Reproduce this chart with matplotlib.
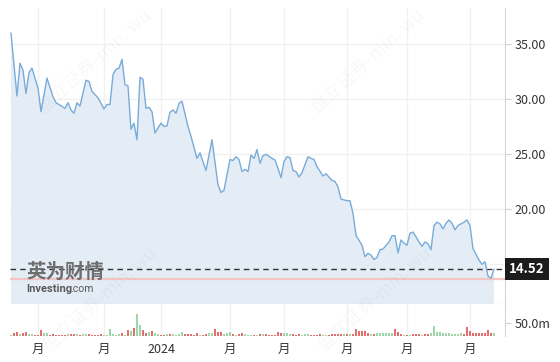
import matplotlib
matplotlib.use("Agg")
import matplotlib.pyplot as plt
import matplotlib.transforms as mtransforms

plt.rcParams['font.family'] = ['Noto Sans CJK SC', 'DejaVu Sans']

# 收盘价 (交易日序号, 价格)
price_day = [0, 2, 3, 4, 5, 6, 7, 9, 10, 12, 14, 15, 16, 18, 19, 20, 21, 22, 23, 25,
             26, 27, 29, 31, 32, 33, 34, 35, 36, 37, 38, 39, 40, 41, 42, 43, 44, 45, 46, 47,
             48, 50, 51, 52, 53, 54, 55, 56, 57, 59, 60, 62, 63, 65, 67, 69, 70, 71, 73, 74,
             75, 76, 77, 78, 79, 80, 81, 82, 83, 84, 85, 87, 88, 89, 90, 91, 92, 93, 94, 95,
             96, 97, 99, 100, 101, 102, 104, 105, 106, 107, 108, 109, 110, 112, 113, 114, 115, 117, 118, 119,
             120, 121, 122, 123, 124, 126, 127, 128, 129, 130, 131, 132, 133, 134, 135, 136, 137, 138, 139, 140,
             141, 142, 143, 144, 145, 146, 147, 148, 149, 150, 151, 152, 153, 154, 156, 157, 158, 159, 160, 161]
close = [35.97, 30.27, 33.25, 32.6, 30.5, 32.4, 32.8, 31.0, 28.85, 31.9, 30.2, 29.66, 29.5, 29.15, 29.66, 29.0, 28.7, 29.66, 29.36, 31.7,
         31.6, 30.7, 30.1, 29.1, 29.5, 29.5, 32.2, 32.7, 32.8, 33.6, 31.3, 31.2, 27.25, 27.8, 26.3, 31.97, 31.8, 29.15, 29.25, 28.85,
         26.9, 27.8, 27.5, 27.55, 28.8, 29.0, 28.7, 29.6, 29.8, 27.5, 26.6, 24.6, 25.1, 23.5, 26.3, 22.2, 21.5, 21.7, 24.5, 24.4,
         24.75, 24.5, 23.4, 23.6, 23.4, 24.9, 24.6, 25.4, 24.15, 24.85, 24.97, 24.6, 24.45, 23.7, 22.85, 24.3, 24.75, 24.66, 23.5, 23.4,
         22.9, 23.3, 24.75, 24.6, 24.5, 23.85, 23.0, 23.2, 22.9, 22.6, 22.5, 22.0, 20.9, 20.75, 20.75, 19.6, 17.6, 16.7, 15.66, 15.97,
         15.8, 15.4, 15.6, 16.3, 16.36, 17.0, 17.57, 17.57, 16.0, 17.18, 16.9, 16.7, 17.8, 17.9, 17.48, 17.0, 16.6, 17.0, 16.85, 16.3,
         18.5, 18.8, 18.65, 18.2, 18.7, 19.0, 18.7, 18.1, 18.5, 18.65, 18.8, 19.0, 18.5, 16.4, 15.36, 14.97, 15.2, 13.9, 13.7, 14.52]

last_price = 14.52
low_price = 13.62

# 成交量 (百万), 每个交易日一根
volume = [4, 10, 14, 9, 10, 14, 6, 6, 4, 4,
          22, 10, 10, 4, 6, 4, 4, 4, 4, 6,
          6, 6, 6, 4, 6, 6, 6, 4, 4, 4,
          6, 4, 4, 26, 9, 4, 9, 10, 4, 23,
          19, 29, 83, 42, 23, 13, 14, 19, 10, 6,
          4, 4, 9, 6, 6, 4, 6, 14, 8, 8,
          8, 4, 10, 4, 4, 8, 10, 10, 27, 14,
          14, 6, 10, 14, 6, 4, 6, 10, 6, 4,
          4, 4, 4, 6, 6, 6, 4, 4, 4, 14,
          10, 10, 10, 6, 6, 4, 6, 4, 6, 6,
          4, 4, 4, 6, 4, 4, 4, 6, 8, 8,
          8, 8, 8, 8, 8, 26, 20, 20, 20, 13,
          8, 8, 10, 10, 10, 10, 13, 10, 26, 17,
          8, 5, 5, 5, 8, 8, 8, 5, 8, 8,
          10, 38, 17, 17, 10, 10, 10, 8, 8, 8,
          10, 8, 33, 20, 13, 13, 13, 13, 10, 23,
          10, 10]
# u = 上涨(绿), d = 下跌(红)
vol_dir = list("uddudduudd" "duuddddddu" "ddudu" "udddd" "duuuuuudud"
               "uduudduduu" "dduduuuudd" "ddduddu" "udd" "duuududduu"
               "udududdddd" "duuudddu" "uu" "ddddu" "udddd" "dudu" "dddddd"
               "uduuuuuudd" "dudu" "dddudd" "uuuuuuuuuu" "uddddddddd" "du")

month_ticks = [9, 31, 50, 73, 91, 112, 132, 153]
month_labels = ['月', '月', '2024', '月', '月', '月', '月', '月']
price_ticks = [15, 20, 25, 30, 35]

fig = plt.figure(figsize=(5.6, 3.62), dpi=100)
ax = fig.add_axes([10 / 560, 58 / 362, 495 / 560, 296 / 362])
axv = fig.add_axes([10 / 560, 26 / 362, 495 / 560, 32 / 362], sharex=ax)

ax.fill_between(price_day, close, 0, color='#e4ecf5', lw=0, zorder=1)
ax.plot(price_day, close, color='#78acd9', lw=1, zorder=4)
ax.axhline(low_price, color='#f4c4c4', lw=1.6, zorder=2)
ax.axhline(last_price, color='#333333', lw=1, ls=(0, (4, 3)), zorder=3)

ax.set_xlim(-0.33, 164.67)
ax.set_ylim(11.36, 38.27)
ax.yaxis.tick_right()
ax.set_yticks(price_ticks)
ax.set_yticklabels(['%.2f' % v for v in price_ticks])
ax.set_xticks(month_ticks)
ax.tick_params(axis='y', length=4, color='#d0d0d0', labelsize=9, labelcolor='#333333', pad=3)
ax.tick_params(axis='x', length=0, labelbottom=False)
ax.grid(color='#f1f1f1', lw=1, zorder=0)
ax.set_axisbelow(True)
for s in ['top', 'left']:
    ax.spines[s].set_visible(False)
ax.spines['right'].set_color('#d4d4d4')
ax.spines['bottom'].set_color('#c8c8c8')

# 15.00 被最新价标签盖住
ax.get_yticklabels()[0].set_visible(False)

trans = mtransforms.blended_transform_factory(ax.transAxes, ax.transData)
ax.annotate('%.2f' % last_price, xy=(1.0, last_price), xycoords=trans,
            xytext=(3, 0), textcoords='offset points', ha='left', va='center',
            color='white', fontsize=9.5, fontweight='bold', annotation_clip=False,
            bbox=dict(boxstyle='square,pad=0.3', fc='#1c1c1c', ec='none'), zorder=10)

# 成交量
colors = ['#9fd5ab' if d == 'u' else '#e26f6f' for d in vol_dir[:len(volume)]]
axv.bar(range(len(volume)), volume, width=0.7, color=colors, lw=0)
axv.set_ylim(0, 123)
axv.yaxis.tick_right()
axv.set_yticks([50])
axv.set_yticklabels(['50.0m'])
axv.set_xticks(month_ticks)
axv.set_xticklabels(month_labels)
axv.tick_params(axis='y', length=4, color='#d0d0d0', labelsize=9, labelcolor='#333333', pad=3)
axv.tick_params(axis='x', length=0, labelsize=9, labelcolor='#333333', pad=5)
axv.grid(axis='x', color='#f1f1f1', lw=1)
axv.set_axisbelow(True)
for s in ['top', 'left', 'bottom']:
    axv.spines[s].set_visible(False)
axv.spines['right'].set_color('#d4d4d4')

# 标志与水印
fig.text(26 / 560, 1 - 272 / 362, '英为财情', fontsize=14, fontweight='bold',
         color='#6e6e6e', va='center')
fig.text(26 / 560, 1 - 289 / 362, 'Investing', fontsize=8, fontweight='bold',
         color='#5a5a5a', va='center', family='Roboto')
fig.text(70 / 560, 1 - 289 / 362, '.com', fontsize=7.5, color='#5a5a5a', va='center',
         family='Roboto')
for wx, wy in [(95, 62), (368, 62), (100, 300), (375, 300)]:
    fig.text(wx / 560, 1 - wy / 362, '盘立证券-min. wu', fontsize=13, color='#000000',
             alpha=0.03, rotation=42, ha='center', va='center')

fig.savefig('out.png', dpi=100)
